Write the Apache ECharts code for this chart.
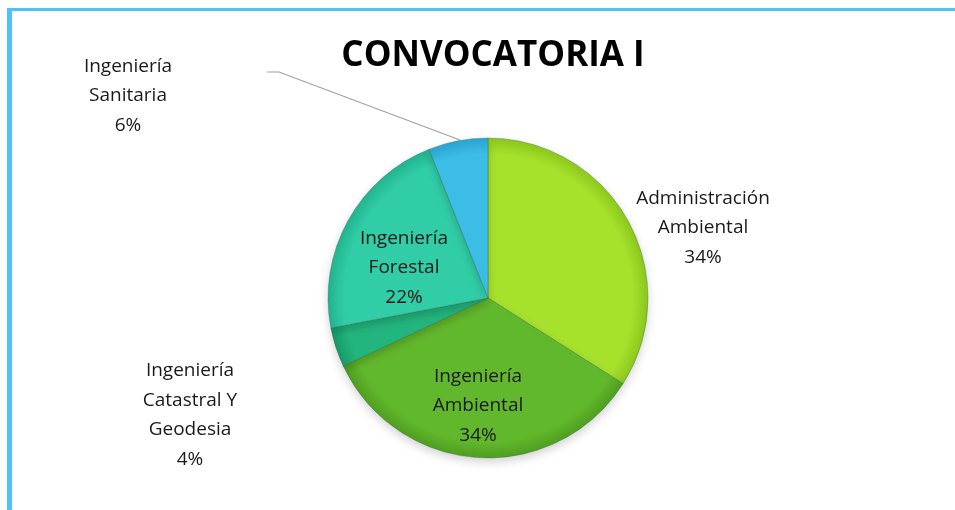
<!DOCTYPE html>
<html>
<head>
<meta charset="utf-8">
<script src="https://cdn.jsdelivr.net/npm/echarts@6/dist/echarts.min.js"></script>
<style>
  html, body { margin: 0; padding: 0; background: #fff; }
  .wrap { position: relative; width: 955px; height: 510px; overflow: hidden; }
  .frame {
    position: absolute; left: 7px; top: 8px; width: 960px; height: 520px;
    border-top: 3px solid #4fc3f5; border-left: 5px solid #4fc3f5;
  }
  .chart { position: absolute; left: 0; top: 0; width: 955px; height: 510px; }
</style>
</head>
<body>
<div class="wrap">
  <div class="frame"></div>
  <div id="main" class="chart"></div>
</div>
<script>
// datos de la convocatoria (porcentajes)
const categories = ['Administración\nAmbiental', 'Ingeniería\nAmbiental', 'Ingeniería\nCatastral Y\nGeodesia', 'Ingeniería\nForestal', 'Ingeniería\nSanitaria']
const values = [34, 34, 4, 22, 6]
const colors = [
  ['#a6e12c', '#8cc81c'],
  ['#62b82c', '#4e9e20'],
  ['#22b57e', '#179a68'],
  ['#30cda6', '#22b48f'],
  ['#3cbde6', '#2aa5d2']
]
// posiciones de las etiquetas
const labelPos = [[703, 228], [478, 406], [190, 415], [404, 268], [128, 96]]

const myChart = echarts.init(document.getElementById('main'), null, { renderer: 'canvas' })

const option = {
  animation: false,
  title: {
    text: 'CONVOCATORIA I',
    left: 488,
    top: 34,
    textAlign: 'center',
    textStyle: {
      fontFamily: 'Open Sans',
      fontWeight: 'bold',
      fontSize: 35,
      color: '#000'
    }
  },
  series: [{
    type: 'pie',
    center: [488, 298],
    radius: 160,
    startAngle: 90,
    clockwise: true,
    data: values.map((v, i) => ({
      name: categories[i],
      value: v,
      itemStyle: {
        color: {
          type: 'radial', x: 488, y: 298, r: 160, global: true,
          colorStops: [
            { offset: 0, color: colors[i][0] },
            { offset: 0.9, color: colors[i][0] },
            { offset: 1, color: colors[i][1] }
          ]
        }
      },
      labelLine: { show: i === 4 }
    })),
    itemStyle: {
      borderColor: 'rgba(40,90,60,0.3)',
      borderWidth: 1,
      shadowColor: 'rgba(0,0,0,0.18)',
      shadowBlur: 10,
      shadowOffsetY: 4
    },
    label: {
      show: true,
      formatter: '{b}\n{d}%',
      fontFamily: 'Open Sans',
      fontSize: 19,
      lineHeight: 29.5,
      color: '#1a1a1a',
      align: 'center'
    },
    labelLine: {
      show: false,
      lineStyle: { color: '#a0a0a0', width: 1.2 }
    },
    labelLayout: function(params) {
      const p = labelPos[params.dataIndex]
      const res = { x: p[0], y: p[1], align: 'center', verticalAlign: 'middle' }
      if (params.dataIndex === 4) {
        res.labelLinePoints = [[460, 140], [279, 72], [267, 72]]
      }
      return res
    }
  }]
}

myChart.setOption(option)
</script>
</body>
</html>
